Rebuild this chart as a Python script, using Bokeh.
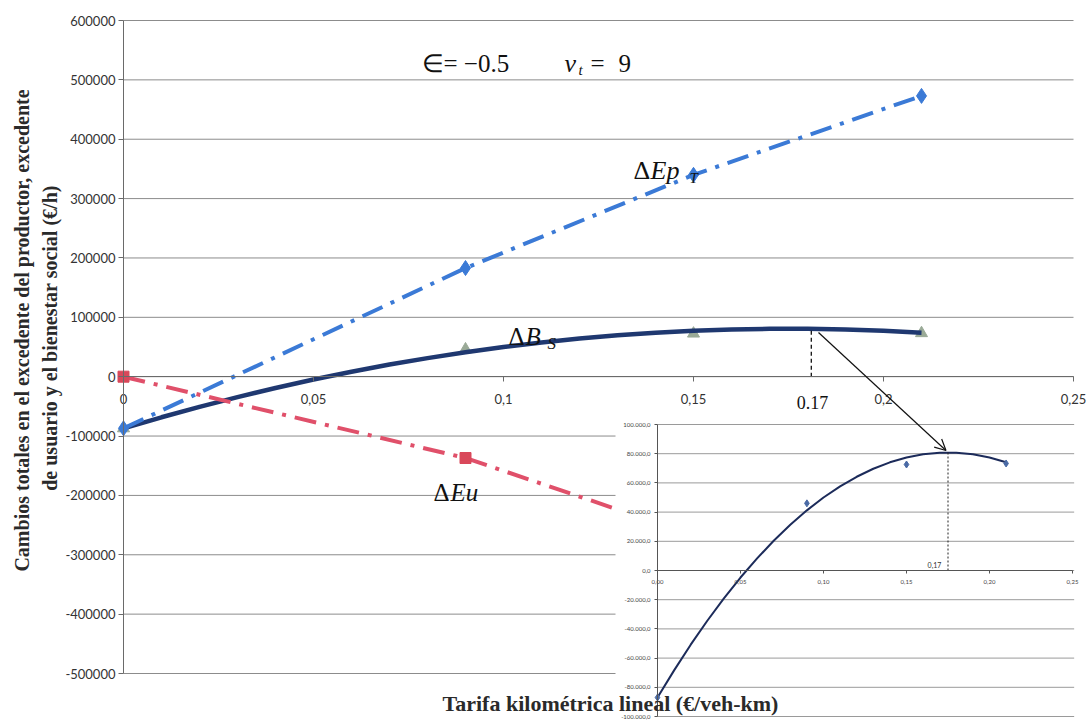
import math
from bokeh.plotting import figure
from bokeh.models import Range1d, LinearAxis, FixedTicker, Label, Arrow, OpenHead
from bokeh.core.properties import value
from bokeh.embed import file_html
from bokeh.resources import INLINE

# ---------------- data ----------------
tarifa = [0.0, 0.09, 0.15, 0.21]
delta_ep_t = [-87000, 183000, 340000, 473000]
delta_eu = [0, -137000, -267000, -400000]
delta_bs = [-87000, 46000, 72600, 73300]

tend_x = [0.00, 0.01, 0.02, 0.03, 0.04, 0.05, 0.06, 0.07, 0.08, 0.09, 0.10,
          0.11, 0.12, 0.13, 0.14, 0.15, 0.16, 0.17, 0.18, 0.19, 0.20, 0.21]
tend_bs = [-87000, -68400, -50800, -34400, -19100, -4800, 8300, 20400, 31300, 41200, 50000,
           57600, 64200, 69700, 74100, 77400, 79600, 80600, 80600, 79600, 77400, 74100]

x_ticks = [0, 0.05, 0.1, 0.15, 0.2, 0.25]
x_labels = ["0", "0,05", "0,1", "0,15", "0,2", "0,25"]
y_ticks = [-500000, -400000, -300000, -200000, -100000, 0,
           100000, 200000, 300000, 400000, 500000, 600000]
y_labels = ["-500000", "-400000", "-300000", "-200000", "-100000", "0",
            "100000", "200000", "300000", "400000", "500000", "600000"]

ix_ticks = [0, 0.05, 0.1, 0.15, 0.2, 0.25]
ix_labels = ["0,00", "0,05", "0,10", "0,15", "0,20", "0,25"]
iy_ticks = [-100000, -80000, -60000, -40000, -20000, 0, 20000, 40000, 60000, 80000, 100000]
iy_labels = ["-100.000,0", "-80.000,0", "-60.000,0", "-40.000,0", "-20.000,0", "0,0",
             "20.000,0", "40.000,0", "60.000,0", "80.000,0", "100.000,0"]

max_x_inset = 0.175
max_y_inset = 80800
max_label_inset = "0,17"
marca_x = 0.181
marca_y = 80600
marca_label = "0.17"

# ---------------- geometry (page pixels) ----------------
W, H = 1090, 721
PL, PR, PT = 123, 1073, 20                    # main plot area on page
Y_TOP, Y_BOT_TICK = 600000, -500000
PX_PER_Y = 653 / 1.1e6
XMAX = 0.25

def X(px):
    return (px - PL) / (PR - PL) * XMAX

def Y(py):
    return Y_TOP - (py - PT) / PX_PER_Y

I_X0, I_XS = 657, 1660        # inset: page x of 0, px per unit
I_Y0, I_YS = 570, 0.00146     # inset: page y of 0, px per unit

def IXP(v):
    return I_X0 + v * I_XS

def IYP(v):
    return I_Y0 - v * I_YS

p = figure(width=W, height=H, output_backend="svg", toolbar_location=None, title=None,
           x_range=Range1d(X(0), X(W)), y_range=Range1d(Y(H), Y(0)),
           x_axis_location=None, y_axis_location=None,
           min_border_left=0, min_border_right=0, min_border_top=0, min_border_bottom=0)
p.outline_line_color = None
p.background_fill_color = "white"
p.border_fill_color = "white"
for g in p.grid:
    g.visible = False

p.extra_x_ranges = {"ix": Range1d((0 - I_X0) / I_XS, (W - I_X0) / I_XS)}
p.extra_y_ranges = {"iy": Range1d((I_Y0 - H) / I_YS, (I_Y0 - 0) / I_YS)}

TICK_FONT = "Lato"

# main horizontal grid
p.segment(x0=[0] * len(y_ticks), y0=y_ticks, x1=[XMAX] * len(y_ticks), y1=y_ticks,
          line_color="#8c8c8c", line_width=1)

# main y axis at x = 0
yax = LinearAxis(ticker=FixedTicker(ticks=y_ticks), bounds=(Y_BOT_TICK, Y_TOP), fixed_location=0,
                 major_label_overrides=dict(zip(y_ticks, y_labels)))
yax.axis_line_color = "#6a6a6a"
yax.major_tick_line_color = "#6a6a6a"
yax.major_tick_out = 5
yax.major_tick_in = 0
yax.minor_tick_line_color = None
yax.major_label_standoff = 3
yax.major_label_text_font = TICK_FONT
yax.major_label_text_font_size = "13px"
yax.major_label_text_color = "#333333"
p.add_layout(yax, "left")

# main x axis crossing at 0
xax = LinearAxis(ticker=FixedTicker(ticks=x_ticks), bounds=(0, XMAX), fixed_location=0,
                 major_label_overrides=dict(zip(x_ticks, x_labels)))
xax.axis_line_color = "#6a6a6a"
xax.major_tick_line_color = "#6a6a6a"
xax.major_tick_out = 5
xax.major_tick_in = 0
xax.minor_tick_line_color = None
xax.major_label_standoff = 12
xax.major_label_text_font = TICK_FONT
xax.major_label_text_font_size = "13px"
xax.major_label_text_color = "#333333"
p.add_layout(xax, "below")

BLUE = "#3b7ad6"
RED = "#e0506a"
NAVY = "#1f3870"
GREEN = "#9aaa97"

# series
p.scatter(tarifa, delta_bs, marker="triangle", size=12, fill_color=GREEN, line_color=GREEN)
p.line(tend_x, tend_bs, line_color=NAVY, line_width=4.5)
p.line(tarifa, delta_ep_t, line_color=BLUE, line_width=4, line_dash="22 9 4 9")
p.scatter(tarifa, delta_ep_t, marker="diamond", size=15, fill_color=BLUE, line_color=BLUE)
p.line(tarifa, delta_eu, line_color=RED, line_width=4, line_dash="22 9 4 9")
p.scatter(tarifa, delta_eu, marker="square", size=11, fill_color="#d9485a", line_color="#d9485a")

# marker of the maximum in the main chart
p.segment(x0=[marca_x], y0=[0], x1=[marca_x], y1=[marca_y], line_color="#111111",
          line_width=1.3, line_dash="4 3")

# ---------------- inset ----------------
p.quad(left=[X(615)], right=[X(W + 20)], top=[Y(418)], bottom=[Y(H + 20)],
       fill_color="white", line_color=None)

p.segment(x0=[0] * len(iy_ticks), y0=iy_ticks, x1=[0.251] * len(iy_ticks), y1=iy_ticks,
          line_color="#9a9a9a", line_width=1, x_range_name="ix", y_range_name="iy")

p.line(tend_x, tend_bs, line_color="#1c2b5a", line_width=2,
       x_range_name="ix", y_range_name="iy")
p.scatter(tarifa, delta_bs, marker="diamond", size=7, fill_color="#4a6aa5",
          line_color="#4a6aa5", x_range_name="ix", y_range_name="iy")
p.segment(x0=[max_x_inset], y0=[0], x1=[max_x_inset], y1=[max_y_inset],
          line_color="#222222", line_width=1, line_dash="2 2",
          x_range_name="ix", y_range_name="iy")
p.text(x=[max_x_inset - 0.004], y=[1500], text=[max_label_inset],
       text_font=value(TICK_FONT), text_font_size="7px", text_color="#333333",
       text_align="right", text_baseline="bottom", x_range_name="ix", y_range_name="iy")

iyax = LinearAxis(x_range_name="ix", y_range_name="iy", fixed_location=0,
                  ticker=FixedTicker(ticks=iy_ticks), bounds=(-100000, 100000),
                  major_label_overrides=dict(zip(iy_ticks, iy_labels)))
iyax.axis_line_color = "#555555"
iyax.major_tick_line_color = "#555555"
iyax.major_tick_out = 3
iyax.major_tick_in = 0
iyax.minor_tick_line_color = None
iyax.major_label_standoff = 4
iyax.major_label_text_font = TICK_FONT
iyax.major_label_text_font_size = "6px"
iyax.major_label_text_color = "#444444"
p.add_layout(iyax, "left")

ixax = LinearAxis(x_range_name="ix", y_range_name="iy", fixed_location=0,
                  ticker=FixedTicker(ticks=ix_ticks), bounds=(0, 0.25),
                  major_label_overrides=dict(zip(ix_ticks, ix_labels)))
ixax.axis_line_color = "#555555"
ixax.major_tick_line_color = "#555555"
ixax.major_tick_out = 3
ixax.major_tick_in = 0
ixax.minor_tick_line_color = None
ixax.major_label_standoff = 6
ixax.major_label_text_font = TICK_FONT
ixax.major_label_text_font_size = "6px"
ixax.major_label_text_color = "#444444"
p.add_layout(ixax, "below")

# ---------------- texts ----------------
SERIF = "Liberation Serif"

def lab(text, px, py, size, style="normal", font=SERIF, align="left",
        baseline="alphabetic", angle=0.0, color="#111111"):
    p.add_layout(Label(x=X(px), y=Y(py), text=text, text_font=font,
                       text_font_size=f"{size}px", text_font_style=style,
                       text_align=align, text_baseline=baseline, angle=angle,
                       text_color=color))

# parameters
lab("\u2208= \u22120.5", 421, 63, 25)
lab("\u03bd", 564, 63, 26, style="italic")
lab("t", 578, 69, 15, style="italic")
lab("=", 590, 63, 25)
lab("9", 618, 63, 25)

# series names
lab("\u0394", 633, 170, 26)
lab("Ep", 650, 170, 26, style="italic")
lab("T", 689, 177, 15, style="italic")

lab("\u0394", 508, 336, 25)
lab("B", 525, 336, 25, style="italic")
lab("S", 547, 343, 17, style="italic")

lab("\u0394", 433, 492, 25)
lab("Eu", 450, 492, 25, style="italic")

lab(marca_label, 812, 402, 18, align="center")

# arrow from main maximum to inset maximum
ex = IXP(max_x_inset) - 2
ey = IYP(max_y_inset) - 2
p.add_layout(Arrow(end=OpenHead(size=11, line_width=1.2, line_color="#111111"),
                   x_start=X(818), y_start=Y(332), x_end=X(ex), y_end=Y(ey),
                   line_width=1.2, line_color="#111111"))

# axis titles
lab("Cambios totales en el excedente del productor, excedente", 21, 330, 20,
    style="bold", align="center", baseline="middle", angle=math.pi / 2, color="#2a2a2a")
lab("de usuario y el bienestar social  (\u20ac/h)", 49, 335, 20,
    style="bold", align="center", baseline="middle", angle=math.pi / 2, color="#2a2a2a")
lab("Tarifa kilom\u00e9trica lineal (\u20ac/veh-km)", 610, 703, 22,
    style="bold", align="center", color="#2a2a2a")

open("out.html", "w").write(file_html(p, INLINE))
